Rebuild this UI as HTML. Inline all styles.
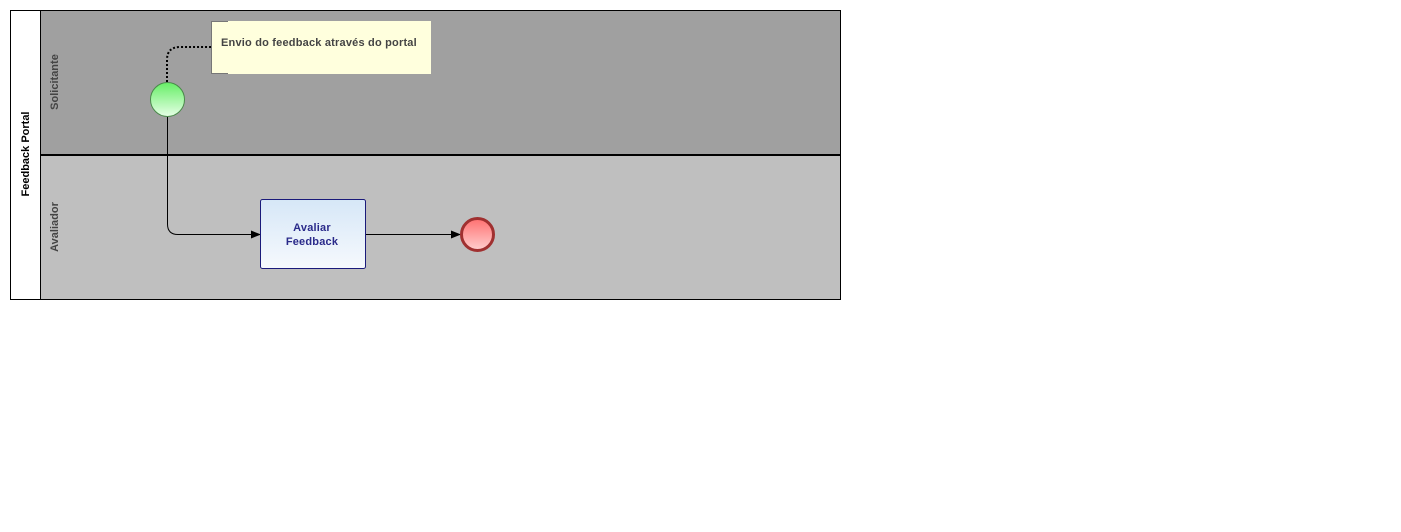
<!DOCTYPE html>
<html><head><meta charset="utf-8"><style>
html,body{margin:0;padding:0;background:#fff;width:1401px;height:532px;overflow:hidden}
text{font-family:"Liberation Sans",Arial,sans-serif;font-weight:bold}
</style></head><body>
<svg width="1401" height="532" xmlns="http://www.w3.org/2000/svg">
<defs>
<linearGradient id="g" x1="0" y1="0" x2="0" y2="1"><stop offset="0" stop-color="#66ee66"/><stop offset="1" stop-color="#e6ffe6"/></linearGradient>
<linearGradient id="r" x1="0" y1="0" x2="0" y2="1"><stop offset="0" stop-color="#ff7070"/><stop offset="1" stop-color="#ffd0d0"/></linearGradient>
<linearGradient id="b" x1="0" y1="0" x2="0" y2="1"><stop offset="0" stop-color="#d6e7f7"/><stop offset="1" stop-color="#f6f9fd"/></linearGradient>
<marker id="a" markerWidth="10" markerHeight="8" refX="9" refY="4" orient="auto" markerUnits="userSpaceOnUse"><path d="M0,0 L10,4 L0,8 Z" fill="#000"/></marker>
</defs>
<rect x="40.5" y="10.5" width="800" height="144" fill="#a0a0a0"/>
<rect x="40.5" y="155" width="800" height="144" fill="#bfbfbf"/>
<rect x="10.5" y="10.5" width="30" height="289" fill="#fff"/>
<rect x="10.5" y="10.5" width="830" height="289" fill="none" stroke="#000" stroke-width="1"/>
<line x1="40.5" y1="10" x2="40.5" y2="300" stroke="#000"/>
<line x1="40" y1="155" x2="841" y2="155" stroke="#000" stroke-width="2"/>
<text transform="translate(29,154) rotate(-90)" text-anchor="middle" font-size="11" fill="#000">Feedback Portal</text>
<text transform="translate(58,82) rotate(-90)" text-anchor="middle" font-size="11" fill="#444">Solicitante</text>
<text transform="translate(58,227) rotate(-90)" text-anchor="middle" font-size="11" fill="#444">Avaliador</text>
<rect x="211.5" y="21.5" width="218" height="52" fill="#ffffdd" stroke="#777" stroke-width="1"/>
<rect x="228" y="21" width="202" height="1" fill="#ffffdd"/>
<rect x="228" y="73" width="202" height="1" fill="#ffffdd"/>
<rect x="429" y="21" width="2" height="53" fill="#ffffdd"/>
<text x="221" y="46" font-size="11" fill="#444" letter-spacing="0.2">Envio do feedback através do portal</text>
<path d="M167,82 L167,60 Q167,47 180,47 L211,47" fill="none" stroke="#000" stroke-width="2" stroke-dasharray="2,2"/>
<path d="M167.5,117 L167.5,224 Q167.5,234.5 178,234.5 L260,234.5" fill="none" stroke="#000" stroke-width="1" marker-end="url(#a)"/>
<circle cx="167.5" cy="99.5" r="17" fill="url(#g)" stroke="#4a8a4a" stroke-width="1"/>
<rect x="260.5" y="199.5" width="105" height="69" rx="2" fill="url(#b)" stroke="#1a1a7a" stroke-width="1"/>
<text x="312" y="231" text-anchor="middle" font-size="11" fill="#2a2a8a" letter-spacing="0.2">Avaliar</text>
<text x="312" y="245" text-anchor="middle" font-size="11" fill="#2a2a8a" letter-spacing="0.2">Feedback</text>
<line x1="366" y1="234.5" x2="460" y2="234.5" stroke="#000" marker-end="url(#a)"/>
<circle cx="477.5" cy="234.5" r="16" fill="url(#r)" stroke="#a03030" stroke-width="3"/>
</svg>
</body></html>
